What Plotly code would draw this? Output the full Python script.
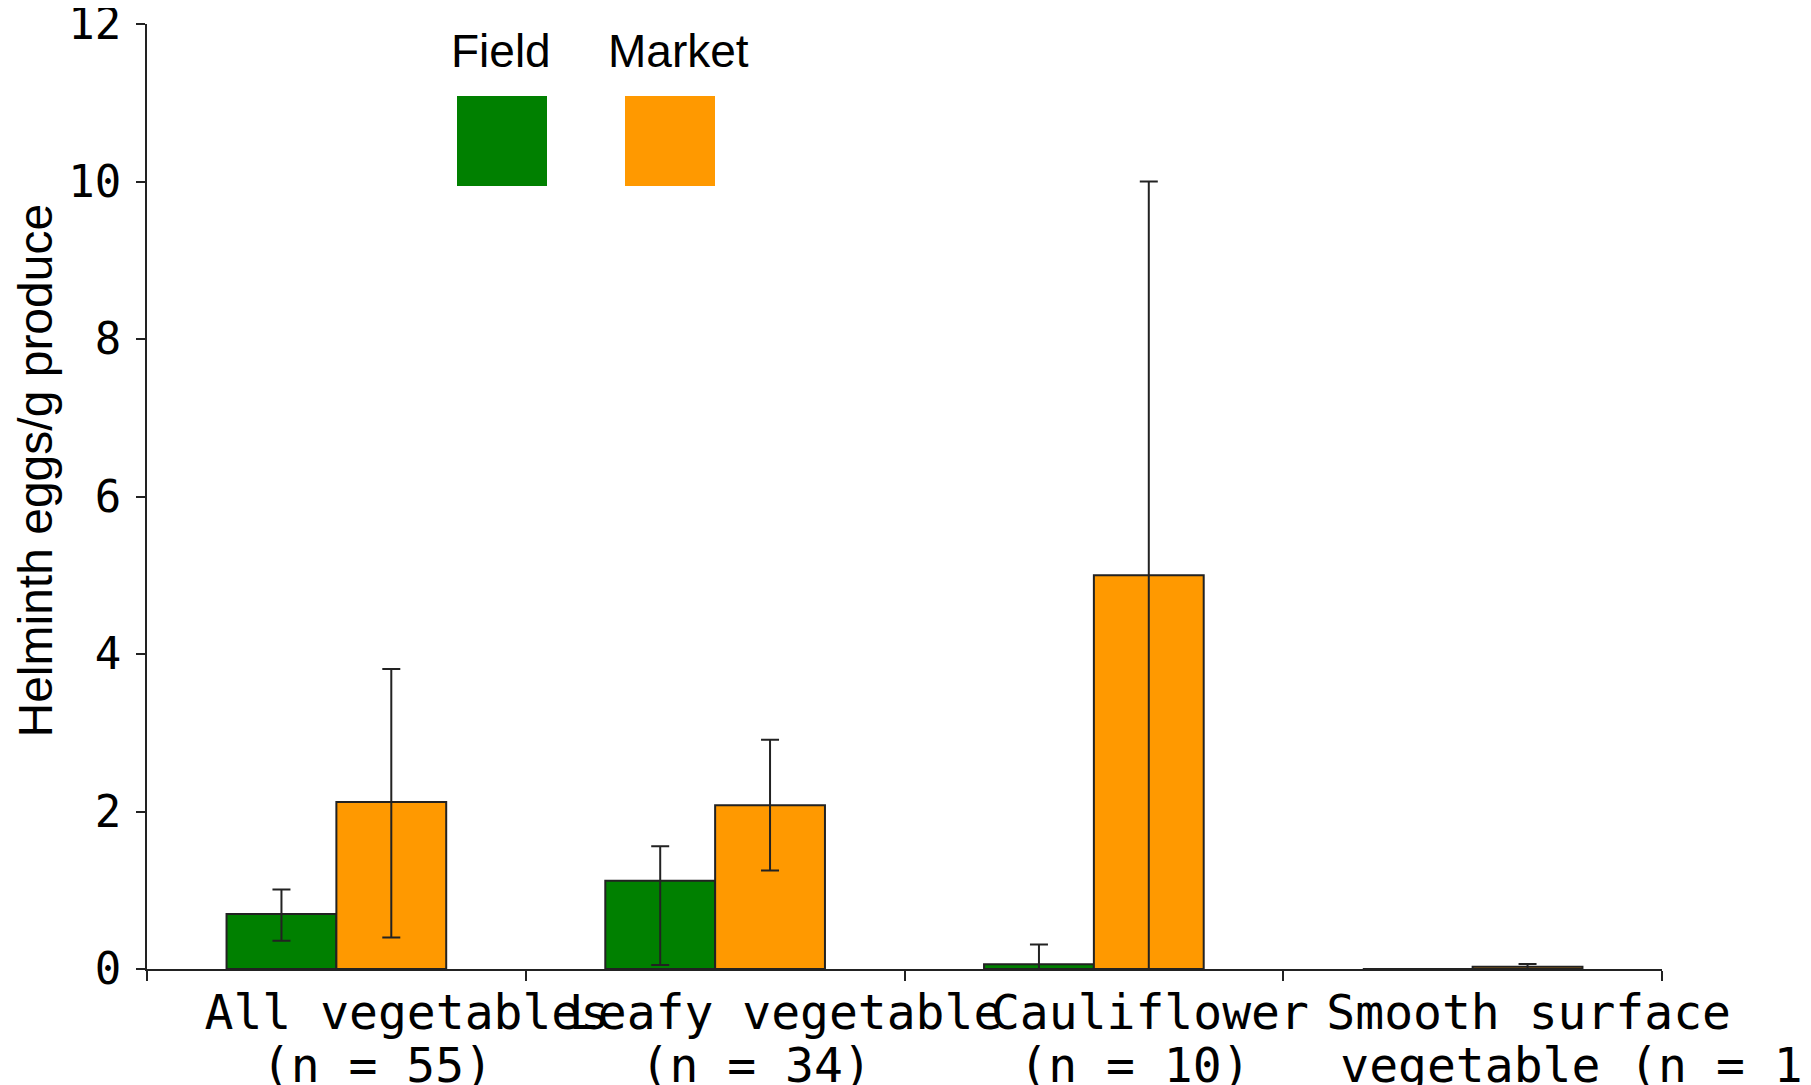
import plotly.graph_objects as go

# ---- data ----
categories = ["All vegetables", "Leafy vegetable", "Cauliflower", "Smooth surface vegetable"]
label_line1 = ["\u00a0All vegetables", "\u00a0Leafy vegetable", "Cauliflower", "Smooth surface"]
label_line2 = ["(n = 55)", "(n = 34)", "(n = 10)", "\u00a0\u00a0\u00a0\u00a0\u00a0\u00a0vegetable (n = 11)"]

field_mean = [0.70, 1.12, 0.06, 0.0]
field_err_plus = [0.31, 0.44, 0.25, 0.0]
field_err_minus = [0.34, 1.07, 0.25, 0.0]

market_mean = [2.12, 2.08, 5.00, 0.03]
market_err_plus = [1.69, 0.83, 5.00, 0.035]
market_err_minus = [1.72, 0.83, 5.00, 0.03]

y_ticks = [0, 2, 4, 6, 8, 10, 12]

# ---- style ----
GREEN = "#008000"
ORANGE = "#FF9900"
INK = "#222222"
MONO = "DejaVu Sans Mono"
SANS = "Liberation Sans, Arial"

W, H = 1811, 1085
PAGE = 8  # body margin of the html page
ML, MT = 139, 16
PW, PH = 1515, 945
MR = W - ML - PW
MB = H - MT - PH


def px_x(p):
    return (p - PAGE - ML) / PW


def px_y(p):
    return (MT + PH - (p - PAGE)) / PH


err_style = dict(type="data", symmetric=False, color=INK, thickness=2, width=9, visible=True)

fig = go.Figure()
fig.add_trace(go.Bar(
    name="Field", x=categories, y=field_mean,
    marker=dict(color=GREEN, line=dict(color=INK, width=2)),
    error_y=dict(array=field_err_plus, arrayminus=field_err_minus, **err_style),
    showlegend=False,
))
fig.add_trace(go.Bar(
    name="Market", x=categories, y=market_mean,
    marker=dict(color=ORANGE, line=dict(color=INK, width=2)),
    error_y=dict(array=market_err_plus, arrayminus=market_err_minus, **err_style),
    showlegend=False,
))
# invisible helper so the second (label) axis is drawn
fig.add_trace(go.Scatter(
    x=categories, y=market_mean, xaxis="x2", mode="markers",
    marker=dict(opacity=0), hoverinfo="skip", showlegend=False,
))

fig.update_layout(
    width=W, height=H,
    margin=dict(l=ML, r=MR, t=MT, b=MB, autoexpand=False),
    paper_bgcolor="white", plot_bgcolor="white",
    barmode="group", bargap=0.42, bargroupgap=0,
    xaxis=dict(
        type="category", categoryorder="array", categoryarray=categories,
        range=[-0.5, 3.5], tickmode="array", tickvals=categories, ticktext=label_line1,
        tickson="boundaries", ticks="outside", ticklen=10, tickwidth=2, tickcolor=INK,
        showline=True, linewidth=2, linecolor=INK, showgrid=False, zeroline=False,
        tickangle=0, automargin=False, ticklabeloverflow="allow",
        tickfont=dict(family=MONO, size=48, color="black"),
        ticklabelshift=56, ticklabelstandoff=0,
    ),
    xaxis2=dict(
        type="category", categoryorder="array", categoryarray=categories,
        overlaying="x", anchor="y", side="bottom",
        range=[-0.5, 3.5], tickmode="array", tickvals=categories, ticktext=label_line2,
        ticks="", showline=False, showgrid=False, zeroline=False,
        tickangle=0, automargin=False, ticklabeloverflow="allow",
        tickfont=dict(family=MONO, size=48, color="black"),
        ticklabelshift=41, ticklabelstandoff=64,
    ),
    yaxis=dict(
        range=[0, 12], tickmode="array", tickvals=y_ticks,
        ticks="outside", ticklen=9, tickwidth=2, tickcolor=INK,
        showline=True, linewidth=2, linecolor=INK, showgrid=False, zeroline=False,
        automargin=False, ticklabeloverflow="allow",
        tickfont=dict(family=MONO, size=44, color="black"),
        ticklabelstandoff=6,
    ),
    annotations=[
        dict(text="Helminth eggs/g produce", textangle=-90, xref="paper", yref="paper",
             x=px_x(34.5), y=px_y(471), xanchor="center", yanchor="middle", showarrow=False,
             font=dict(family=SANS, size=48, color="black")),
        dict(text="Field", xref="paper", yref="paper", x=px_x(501), y=px_y(51),
             xanchor="center", yanchor="middle", showarrow=False,
             font=dict(family=SANS, size=46, color="black")),
        dict(text="Market", xref="paper", yref="paper", x=px_x(678), y=px_y(51),
             xanchor="center", yanchor="middle", showarrow=False,
             font=dict(family=SANS, size=46, color="black")),
    ],
    shapes=[
        dict(type="rect", xref="paper", yref="paper", x0=px_x(457), x1=px_x(547),
             y0=px_y(186), y1=px_y(96), fillcolor=GREEN, line=dict(width=0)),
        dict(type="rect", xref="paper", yref="paper", x0=px_x(625), x1=px_x(715),
             y0=px_y(186), y1=px_y(96), fillcolor=ORANGE, line=dict(width=0)),
    ],
)

fig.write_html("out.html")
